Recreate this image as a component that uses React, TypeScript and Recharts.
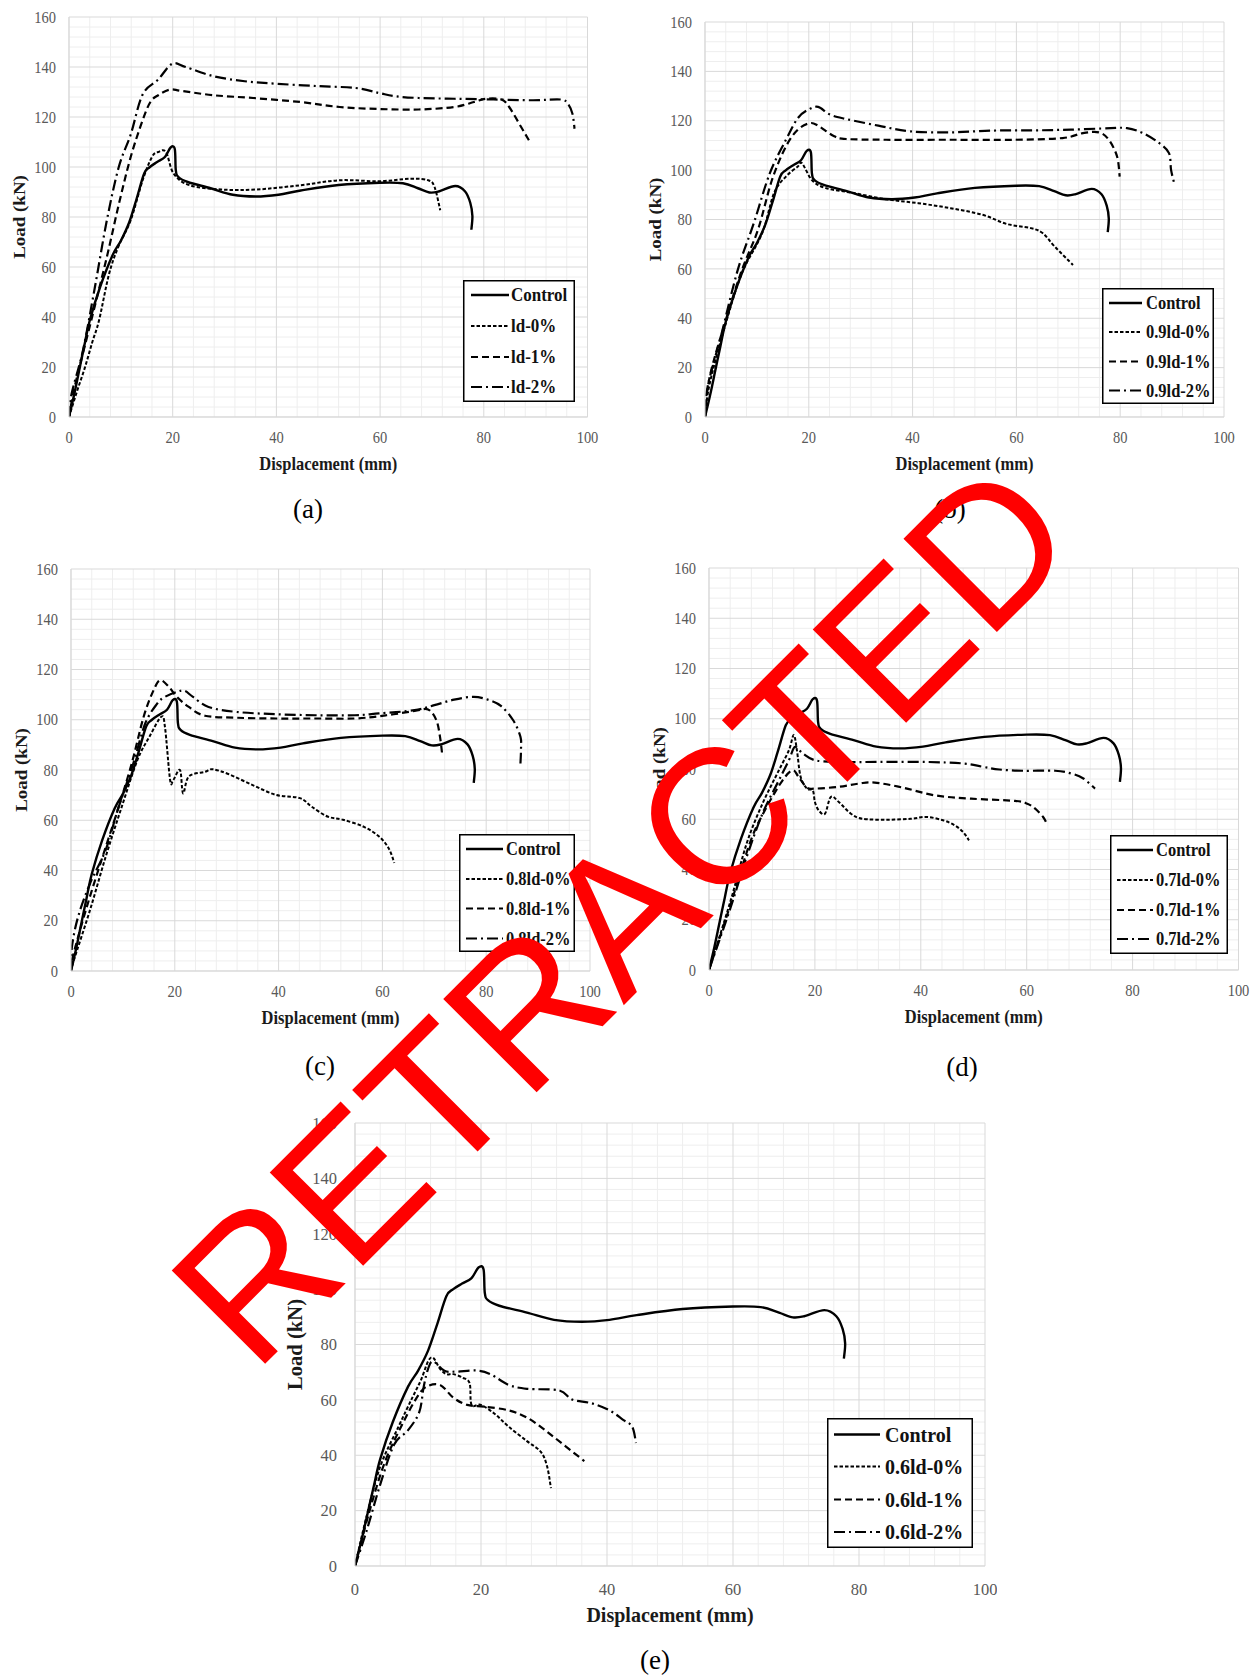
import React from 'react';
import { LineChart, Line, XAxis, YAxis, CartesianGrid, Legend } from 'recharts';

// Load–displacement curves, [displacement mm, load kN]
const controlCurve = [
  [0, 0], [1, 9], [2, 19], [3, 29], [4, 38.6], [6, 52], [8.4, 64.7], [10, 70.5], [11.6, 77.8],
  [13, 87], [14.5, 97.4], [15.6, 100], [17, 102], [18.5, 104], [19.6, 107.8], [20.4, 107.2],
  [20.6, 98.7], [21.1, 96], [22.9, 94], [27.3, 91.5], [31.6, 88.9], [36, 88.2], [40.4, 88.9],
  [44.7, 90.6], [52, 92.8], [60, 93.7], [64.4, 93.5], [67.3, 91.5], [69.5, 89.8], [71.3, 90.2],
  [74.5, 92.4], [76.4, 90.2], [77.4, 85.6], [77.8, 80.4], [77.6, 74.9],
];

const ld0 = [
  [0, 0], [1.5, 10], [3.1, 20], [4.5, 30], [5.8, 38.7], [7.7, 57], [9.5, 68], [11.9, 78.7],
  [14.2, 94.7], [16, 104], [17.2, 106], [18.7, 106], [20.2, 97.3], [23.3, 92.7], [29.4, 91],
  [36.2, 91], [44.6, 92.7], [52.2, 94.7], [59.8, 94.3], [65.9, 95.3], [69.3, 94.7], [70.5, 92],
  [71.6, 82.7],
];
const ld1 = [
  [0, 0], [1.2, 13], [4.3, 38.7], [7.3, 64], [9.6, 85], [11.9, 104], [14.2, 118.7], [15.7, 126],
  [17.2, 128.7], [19.5, 131], [21.8, 130.4], [27.9, 128.7], [35.5, 127.6], [44.6, 126], [52.2, 124],
  [59.8, 123.2], [67.4, 123], [74.3, 124], [78.1, 126], [80.4, 127.3], [83.4, 127], [84.9, 124],
  [87.2, 116], [88.7, 110.7],
];
const ld2 = [
  [0, 0], [0.5, 9.3], [2.7, 26.7], [5, 52], [7.3, 78.7], [9.6, 100], [11.9, 113], [14.2, 129],
  [17.2, 135], [19.9, 141.3], [22.5, 140], [27.9, 136.3], [33.9, 134.3], [40, 133.3], [47.6, 132.4],
  [55.3, 131.6], [59.8, 129.6], [62.9, 128.3], [67.4, 127.6], [74.3, 127.3], [81.9, 127],
  [89.5, 126.7], [94.8, 127], [96.2, 125.3], [97.1, 121.3], [97.5, 115.3],
];

const ld90_0 = [
  [0, 0], [0.9, 13.5], [4, 37.9], [7.1, 58.2], [11, 74.4], [13.3, 90.7], [15.6, 97.4], [17.9, 101.5],
  [18.7, 102.8], [20.6, 96], [23.3, 92.7], [28.7, 90.7], [34.9, 88.2], [41.1, 86.6], [47.3, 84.6],
  [53.5, 81.9], [58.1, 78.2], [62.8, 76.5], [65.1, 74.4], [67.4, 69], [70.9, 61.6],
];
const ld90_1 = [
  [0, 0], [0.9, 16.2], [4, 39.2], [7.1, 59.5], [10.2, 75.8], [12.9, 96], [15.6, 109.6], [17.9, 116.4],
  [20.2, 119], [21.8, 118], [24.9, 113.7], [27.2, 112.6], [34.9, 112.3], [47.3, 112.3], [59.7, 112.3],
  [68.9, 113], [72.8, 115], [75.9, 115.3], [77.8, 112.3], [79.4, 105.5], [79.9, 97.4],
];
const ld90_2 = [
  [0, 0], [0.5, 12.2], [3.2, 33.8], [6.3, 59.5], [9.4, 78.5], [12.5, 98.8], [15.6, 112.3],
  [17.9, 121.1], [19.9, 124.5], [21.8, 125.6], [24.1, 122.5], [27.2, 120.7], [33.4, 118],
  [39.6, 115.7], [47.3, 115.3], [55, 116], [62.8, 116.1], [70.5, 116.4], [78.2, 117], [81.3, 117],
  [84.4, 115], [87.5, 111], [89.4, 106.9], [89.8, 100.1], [90.4, 94.7],
];

const ld80_0 = [
  [0, 0], [0.6, 4.6], [3.7, 24.5], [6.7, 45.6], [9.8, 65.5], [12.8, 84], [15.1, 93.2], [17.4, 101.2],
  [18.1, 97.2], [19.1, 76], [19.7, 76], [21, 80], [21.6, 70.7], [22.7, 77.4], [25.8, 79.3],
  [27.3, 80.3], [30.3, 78.4], [35, 74], [39.5, 70.1], [44.1, 68.8], [46.3, 65.5], [49.4, 61.5],
  [52.4, 60.2], [56.3, 57.5], [59.3, 53.6], [61.2, 48.9], [62.3, 43],
];
const ld80_1 = [
  [0, 0], [0.2, 4.6], [2.9, 24.5], [5.9, 44.3], [9, 64.1], [11.7, 82.6], [14, 101.2], [15.9, 111.7],
  [17.2, 115.7], [18.9, 113], [20.4, 109.1], [22.7, 105.1], [25.8, 101.6], [31.9, 100.8],
  [39.5, 100.5], [47.1, 100.5], [54.7, 100.5], [60.8, 101.8], [66.2, 103.5], [68.8, 104.1],
  [70.4, 99.8], [71.1, 93.2], [71.5, 86.6],
];
const ld80_2 = [
  [0, 0], [0.2, 9.9], [1.4, 21.8], [3.7, 35], [6.7, 48.3], [9, 64.1], [12, 82.6], [14.3, 98.5],
  [16.6, 106.4], [18.1, 109.1], [20.4, 111.1], [21.9, 111.5], [23.5, 109.1], [26.5, 105.1],
  [31.9, 103.1], [39.5, 102.2], [47.1, 101.8], [54.7, 101.8], [59.3, 102.5], [66.2, 103.8],
  [70, 105.8], [73.8, 108], [77.6, 109.1], [80.6, 107.8], [82.9, 105.4], [85.2, 99.8], [86.6, 93.2],
  [86.7, 87.9], [86.6, 82.6],
];

const ld70_0 = [
  [0, 0], [4.1, 27.7], [7.1, 50.3], [10.1, 66.2], [13.2, 79.5], [15.1, 87.5], [16, 93.5],
  [16.6, 87.5], [17.3, 76.9], [18.5, 72.2], [19.6, 71.5], [20, 66.9], [20.7, 63.6], [21.9, 62.2],
  [23, 68.9], [24.5, 66.9], [26.8, 62.2], [29, 60.2], [33.6, 59.8], [38.1, 60.2], [41.1, 60.9],
  [44.2, 59.6], [46.4, 57.6], [48, 54.9], [49.1, 51.6],
];
const ld70_1 = [
  [0, 0], [4.1, 26.3], [7.9, 51.6], [10.9, 64.9], [13.9, 75.5], [15.8, 79.5], [16.9, 76.9],
  [18.5, 72.6], [20, 72.2], [24.5, 72.9], [28.3, 74.2], [31.3, 74.6], [36.6, 72.6], [42.7, 69.5],
  [49.5, 68.2], [57.8, 67.3], [60.1, 66.2], [61.6, 64.2], [63.1, 60.9], [63.8, 58.2],
];
const ld70_2 = [
  [0, 0], [4.1, 25], [7.1, 44.9], [10.1, 62.2], [13.2, 75.5], [15.1, 83.5], [16.2, 88.8],
  [17.7, 86.2], [20, 83.5], [24.5, 82.8], [32.1, 82.8], [41.1, 82.8], [48, 82.2], [51.7, 80.9],
  [54.8, 79.8], [59.3, 79.3], [65.4, 79.3], [68.4, 78.2], [70.7, 76.2], [72.9, 72.2],
];

const ld60_0 = [
  [0, 0], [1.8, 17.6], [4, 35.9], [6.9, 50.3], [9.1, 60.8], [10.5, 67.3], [11.6, 73.9], [12.4, 75.2],
  [13.5, 71.2], [14.5, 69.3], [15.6, 69.3], [17.1, 68], [18.2, 66], [18.5, 58.2], [20, 58.2],
  [22.2, 54.9], [24.4, 50.3], [27.3, 45.1], [29.5, 41.2], [30.5, 35.9], [31.1, 28.1],
];
const ld60_1 = [
  [0, 0], [2.2, 19], [4.7, 37.3], [7.6, 51.6], [9.8, 60.8], [11.3, 64.7], [13.5, 65.4], [15.6, 60.8],
  [17.8, 58.2], [20.7, 57.5], [24.4, 56.2], [27.3, 53.6], [30.2, 49], [33.1, 43.8], [36.4, 37.9],
];
const ld60_2 = [
  [0, 0], [1.8, 12.4], [4, 29.4], [6.2, 43.8], [8.4, 49], [10.2, 55.6], [10.9, 64.7], [11.6, 71.2],
  [12.4, 73.9], [14.2, 70.5], [16, 70.2], [19.3, 70.6], [21.5, 69.3], [24.4, 65.4], [27.3, 64],
  [32.4, 63.4], [34.5, 60.1], [37.5, 58.8], [40.4, 56.2], [42.5, 52.9], [44, 50.3], [44.6, 44.4],
];

const xTicks = [0, 20, 40, 60, 80, 100];
const yTicks = [0, 20, 40, 60, 80, 100, 120, 140, 160];
const xMinor = Array.from({ length: 26 }, (_, i) => i * 4).filter((v) => v % 20 !== 0);
const yMinor = Array.from({ length: 41 }, (_, i) => i * 4).filter((v) => v % 20 !== 0);

const SERIF = "'Liberation Serif', 'Times New Roman', serif";
const styles = [
  { dash: undefined, width: 2.4 },
  { dash: '3.5 2', width: 2 },
  { dash: '7 4', width: 2.2 },
  { dash: '11 4 2 4', width: 2.2 },
];

const toPts = (arr: number[][]) => arr.map(([x, y]) => ({ x, y }));

function smoothCurve(context: any) {
  let pts: number[][] = [];
  return {
    areaStart() {},
    areaEnd() {},
    lineStart() {
      pts = [];
    },
    point(x: number, y: number) {
      pts.push([+x, +y]);
    },
    lineEnd() {
      const n = pts.length;
      if (!n) return;
      context.moveTo(pts[0][0], pts[0][1]);
      for (let i = 0; i < n - 1; i++) {
        const p0 = pts[Math.max(i - 1, 0)];
        const p1 = pts[i];
        const p2 = pts[i + 1];
        const p3 = pts[Math.min(i + 2, n - 1)];
        context.bezierCurveTo(
          p1[0] + (p2[0] - p0[0]) / 6, p1[1] + (p2[1] - p0[1]) / 6,
          p2[0] - (p3[0] - p1[0]) / 6, p2[1] - (p3[1] - p1[1]) / 6,
          p2[0], p2[1],
        );
      }
    },
  };
}

type Box = { left: number; top: number; width: number; height: number };
type PanelCfg = {
  prefix: string;
  curves: number[][][];
  plot: Box;
  legend: Box;
  rows: number[];
  sample: [number, number];
  textX: number;
  legendFont: number;
  caption: { text: string; x: number; y: number };
  tickFont: number;
  titleFont: number;
  sy: number;
  xTickGap: number;
  xTitleGap: number;
  yTickGap: number;
  yTitleGap: number;
};

const base = { tickFont: 14.5, titleFont: 16.5, sy: 1.15, xTickGap: 14, xTitleGap: 47, yTickGap: 13, yTitleGap: 50 };

const panels: PanelCfg[] = [
  {
    ...base, prefix: 'ld', curves: [ld0, ld1, ld2],
    plot: { left: 68.5, top: 17, width: 518.5, height: 400 },
    legend: { left: 463, top: 280, width: 112, height: 122 }, rows: [15, 46, 77, 107],
    sample: [8, 46], textX: 48, legendFont: 17, caption: { text: '(a)', x: 308, y: 509 },
  },
  {
    ...base, prefix: '0.9ld', curves: [ld90_0, ld90_1, ld90_2],
    plot: { left: 705, top: 22, width: 519, height: 395 },
    legend: { left: 1102, top: 288, width: 112, height: 116 }, rows: [15, 44, 73.5, 102.5],
    sample: [7, 40], textX: 44, legendFont: 16.5, caption: { text: '(b)', x: 950, y: 509 },
  },
  {
    ...base, prefix: '0.8ld', curves: [ld80_0, ld80_1, ld80_2],
    plot: { left: 70.6, top: 569, width: 519, height: 402 },
    legend: { left: 459, top: 834, width: 116, height: 118 }, rows: [15, 45, 74.5, 104.5],
    sample: [7, 44], textX: 47, legendFont: 16.5, caption: { text: '(c)', x: 320, y: 1066 },
  },
  {
    ...base, prefix: '0.7ld', curves: [ld70_0, ld70_1, ld70_2],
    plot: { left: 708.5, top: 568, width: 529.5, height: 402 },
    legend: { left: 1110, top: 835, width: 118, height: 119 }, rows: [15, 45, 75, 104],
    sample: [7, 43], textX: 46, legendFont: 16.5, caption: { text: '(d)', x: 962, y: 1067 },
  },
  {
    prefix: '0.6ld', curves: [ld60_0, ld60_1, ld60_2],
    plot: { left: 355, top: 1123, width: 630, height: 443 },
    legend: { left: 827, top: 1418, width: 146, height: 130 }, rows: [16.5, 48.5, 81.5, 114],
    sample: [7, 53], textX: 58, legendFont: 20, caption: { text: '(e)', x: 655, y: 1660 },
    tickFont: 16.5, titleFont: 20, sy: 1.03, xTickGap: 17, xTitleGap: 49, yTickGap: 18, yTitleGap: 60,
  },
];

const PAD_L = 80;
const PAD_T = 12;
const PAD_R = 12;
const AXIS_H = 72;

function Panel({ cfg }: { cfg: PanelCfg }) {
  const { plot, legend } = cfg;
  const names = ['Control', ...['0%', '1%', '2%'].map((p) => `${cfg.prefix}-${p}`)];
  const series = [controlCurve, ...cfg.curves].map((c, i) => ({ name: names[i], data: toPts(c), ...styles[i] }));
  const originX = plot.left - PAD_L;
  const originY = plot.top - PAD_T;

  const renderXTick = (p: any) => (
    <text transform={`translate(${p.x},${p.y}) scale(1,${cfg.sy})`} textAnchor="middle" dy="0.72em"
      fontFamily={SERIF} fontSize={cfg.tickFont} fill="#595959">{p.payload.value}</text>
  );
  const renderYTick = (p: any) => (
    <text transform={`translate(${p.x},${p.y}) scale(1,${cfg.sy})`} textAnchor="end" dy="0.34em"
      fontFamily={SERIF} fontSize={cfg.tickFont} fill="#595959">{p.payload.value}</text>
  );
  const renderXTitle = (p: any) => {
    const vb = p.viewBox;
    return (
      <text transform={`translate(${vb.x + vb.width / 2},${vb.y + cfg.xTitleGap}) scale(1,${cfg.sy})`}
        textAnchor="middle" dy="0.34em" fontFamily={SERIF} fontWeight="bold" fontSize={cfg.titleFont} fill="#1a1a1a">
        Displacement (mm)
      </text>
    );
  };
  const renderYTitle = (p: any) => {
    const vb = p.viewBox;
    return (
      <text transform={`translate(${vb.x + vb.width - cfg.yTitleGap},${vb.y + vb.height / 2}) rotate(-90) scale(${cfg.sy},1)`}
        textAnchor="middle" dy="0.34em" fontFamily={SERIF} fontWeight="bold" fontSize={cfg.titleFont} fill="#1a1a1a">
        Load (kN)
      </text>
    );
  };

  const renderLegend = () => (
    <svg width={legend.width} height={legend.height} style={{ display: 'block' }}>
      <rect x={0.75} y={0.75} width={legend.width - 1.5} height={legend.height - 1.5} fill="#fff" stroke="#000" strokeWidth={1.5} />
      {series.map((s, i) => (
        <g key={s.name}>
          <line x1={cfg.sample[0]} x2={cfg.sample[1]} y1={cfg.rows[i]} y2={cfg.rows[i]} stroke="#000"
            strokeWidth={s.width} strokeDasharray={s.dash} />
          <text transform={`translate(${cfg.textX},${cfg.rows[i]}) scale(1,1.1)`} dy="0.34em" fontFamily={SERIF}
            fontWeight="bold" fontSize={cfg.legendFont} fill="#111">{s.name}</text>
        </g>
      ))}
    </svg>
  );

  return (
    <div style={{ position: 'absolute', left: originX, top: originY }}>
      <LineChart width={PAD_L + plot.width + PAD_R} height={PAD_T + plot.height + AXIS_H}
        margin={{ top: PAD_T, right: PAD_R, left: 0, bottom: 0 }}>
        <CartesianGrid stroke="#eeeeee" horizontalValues={yMinor} verticalValues={xMinor} />
        <CartesianGrid stroke="#d9d9d9" />
        <XAxis type="number" dataKey="x" domain={[0, 100]} ticks={xTicks} interval={0} allowDataOverflow
          height={AXIS_H} tickSize={0} tickMargin={cfg.xTickGap} tickLine={false} axisLine={{ stroke: '#d9d9d9' }}
          tick={renderXTick} label={{ content: renderXTitle }} />
        <YAxis type="number" domain={[0, 160]} ticks={yTicks} interval={0} allowDataOverflow
          width={PAD_L} tickSize={0} tickMargin={cfg.yTickGap} tickLine={false} axisLine={{ stroke: '#d9d9d9' }}
          tick={renderYTick} label={{ content: renderYTitle }} />
        {series.map((s) => (
          <Line key={s.name} name={s.name} data={s.data} dataKey="y" type={smoothCurve as any} stroke="#000"
            strokeWidth={s.width} strokeDasharray={s.dash} strokeLinejoin="round" dot={false} activeDot={false}
            isAnimationActive={false} />
        ))}
        <Legend layout="horizontal" verticalAlign="middle" align="center" content={renderLegend}
          wrapperStyle={{ left: legend.left - originX, top: legend.top - originY, width: legend.width, height: legend.height, margin: 0 }} />
      </LineChart>
    </div>
  );
}

export default function App() {
  return (
    <div style={{ position: 'absolute', left: 0, top: 0, width: 1258, height: 1677, background: '#fff', overflow: 'hidden' }}>
      {panels.map((cfg) => (
        <React.Fragment key={cfg.caption.text}>
          <Panel cfg={cfg} />
          <div style={{ position: 'absolute', left: cfg.caption.x, top: cfg.caption.y, transform: 'translate(-50%, -50%)',
            fontFamily: SERIF, fontSize: 27, lineHeight: 1, color: '#000', whiteSpace: 'nowrap' }}>
            {cfg.caption.text}
          </div>
        </React.Fragment>
      ))}
      {/* red stamp across the whole figure */}
      <svg width={1258} height={1677} style={{ position: 'absolute', left: 0, top: 0, pointerEvents: 'none' }}>
        <text x={254} y={1375} transform="rotate(-45 254 1375)" fontFamily="'Liberation Sans', Arial, sans-serif"
          fontSize={192} fill="#ff0000">RETRACTED</text>
      </svg>
    </div>
  );
}
